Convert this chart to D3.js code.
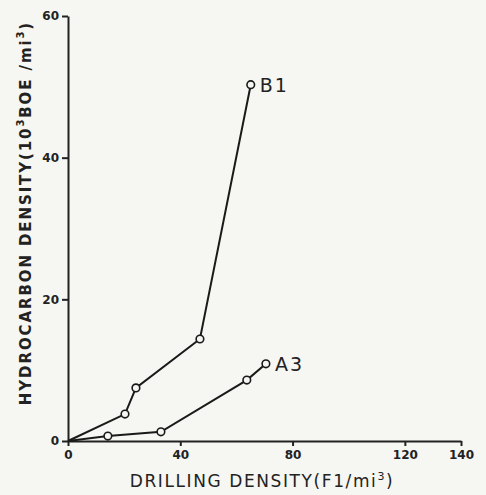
<!DOCTYPE html>
<html>
<head>
<meta charset="utf-8">
<script src="https://cdn.jsdelivr.net/npm/d3@7"></script>
<style>
  body { margin: 0; background: #f6f6f3; }
  svg { display: block; }
  .axis path, .axis line { stroke: #222; stroke-width: 2; }
  .axis text { font-family: "DejaVu Sans", sans-serif; font-weight: bold; font-size: 12px; fill: #222; }
  .lbl { font-family: "DejaVu Sans", sans-serif; fill: #222; }
</style>
</head>
<body>
<svg id="chart"></svg>
<script>
// values
const xTicks = [0, 40, 80, 120, 140];
const yTicks = [0, 20, 40, 60];

const b1X = [0, 20.3, 24.2, 47, 65.1];
const b1Y = [0, 3.8, 7.5, 14.4, 50.3];
const a3X = [0, 14.2, 33.1, 63.7, 70.5];
const a3Y = [0, 0.7, 1.3, 8.6, 10.9];

const series = [
    {name: 'B1', x: b1X, y: b1Y},
    {name: 'A3', x: a3X, y: a3Y}
];

const W = 486, H = 495;
var margin = {top: 16, right: 25, bottom: 54, left: 68};
const width = W - margin.left - margin.right;
const height = H - margin.top - margin.bottom;

const svg = d3.select('#chart')
    .attr('width', W)
    .attr('height', H);

const chart = svg.append('g')
    .attr('transform', `translate(${margin.left}, ${margin.top})`);

const xScale = d3.scaleLinear().domain([0, 140]).range([0, width]);
const yScale = d3.scaleLinear().domain([0, 60]).range([height, 0]);

chart.append('g')
    .attr('class', 'axis')
    .attr('transform', `translate(0, ${height})`)
    .call(d3.axisBottom(xScale).tickValues(xTicks).tickSize(5).tickSizeOuter(0).tickPadding(4));

chart.append('g')
    .attr('class', 'axis')
    .call(d3.axisLeft(yScale).tickValues(yTicks).tickSize(6).tickSizeOuter(0).tickPadding(3));

const line = d3.line()
    .x(d => xScale(d[0]))
    .y(d => yScale(d[1]));

series.forEach(s => {
    const pts = s.x.map((v, i) => [v, s.y[i]]);
    chart.append('path')
        .datum(pts)
        .attr('fill', 'none')
        .attr('stroke', '#1a1a1a')
        .attr('stroke-width', 2)
        .attr('d', line);

    chart.selectAll(null)
        .data(pts.slice(1))
        .enter()
        .append('circle')
        .attr('cx', d => xScale(d[0]))
        .attr('cy', d => yScale(d[1]))
        .attr('r', 3.8)
        .attr('fill', '#f6f6f3')
        .attr('stroke', '#1a1a1a')
        .attr('stroke-width', 1.6);

    const last = pts[pts.length - 1];
    chart.append('text')
        .attr('class', 'lbl')
        .attr('x', xScale(last[0]) + 9)
        .attr('y', yScale(last[1]) + 7)
        .style('font-size', '19px')
        .style('letter-spacing', '2px')
        .text(s.name);
});

// axis titles
const xt = svg.append('text')
    .attr('class', 'lbl')
    .attr('x', 262)
    .attr('y', 487)
    .attr('text-anchor', 'middle')
    .style('font-size', '17px')
    .style('letter-spacing', '1.6px');
xt.append('tspan').text('DRILLING DENSITY(F1/mi');
xt.append('tspan').attr('dy', -7).style('font-size', '11px').text('3');
xt.append('tspan').attr('dy', 7).text(')');

const yt = svg.append('text')
    .attr('class', 'lbl')
    .attr('transform', 'translate(31, 213) rotate(-90)')
    .attr('text-anchor', 'middle')
    .style('font-size', '15px')
    .style('font-weight', 'bold')
    .style('letter-spacing', '1.9px');
yt.append('tspan').text('HYDROCARBON DENSITY(10');
yt.append('tspan').attr('dy', -7).style('font-size', '10px').text('3');
yt.append('tspan').attr('dy', 7).text('BOE /mi');
yt.append('tspan').attr('dy', -7).style('font-size', '10px').text('3');
yt.append('tspan').attr('dy', 7).text(')');
</script>
</body>
</html>
